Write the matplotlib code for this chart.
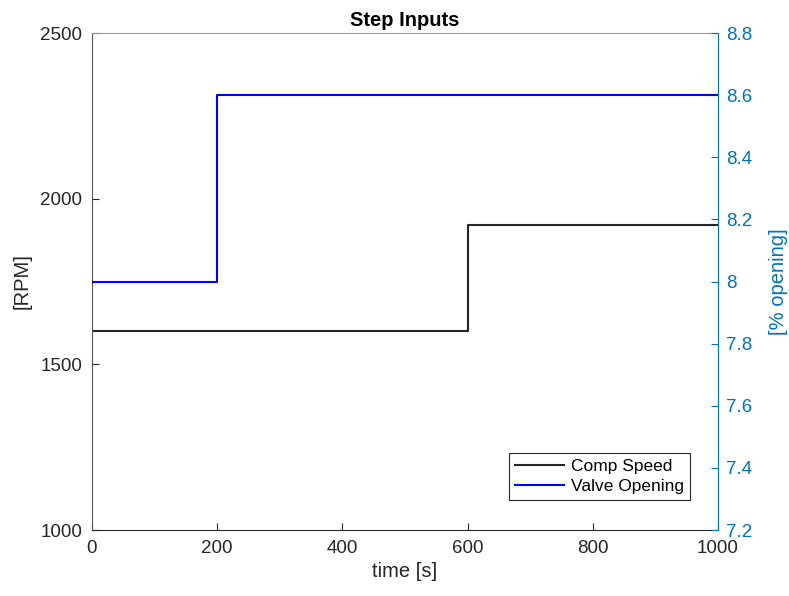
import matplotlib
matplotlib.use('Agg')
import matplotlib.pyplot as plt

# step input data
time_s = [0, 600, 600, 1000]
comp_speed = [1600, 1600, 1920, 1920]
valve_time = [0, 200, 200, 1000]
valve_open = [8.0, 8.0, 8.6, 8.6]

plt.rcParams['font.family'] = ['Liberation Sans', 'DejaVu Sans']

fig = plt.figure(figsize=(7.89, 5.96), dpi=100)
ax = fig.add_axes([0.1166, 0.1107, 0.7934, 0.8339])

l1, = ax.plot(time_s, comp_speed, color='#262626', lw=1.5, label='Comp Speed')
ax.set_xlim(0, 1000)
ax.set_ylim(1000, 2500)
ax.set_xticks([0, 200, 400, 600, 800, 1000])
ax.set_yticks([1000, 1500, 2000, 2500])
ax.tick_params(direction='in', labelsize=13.5, colors='#262626', length=5)
ax.tick_params(axis='x', pad=7)
ax.tick_params(axis='y', pad=7, right=False)
ax.set_xlabel('time [s]', fontsize=14.5, color='#262626', labelpad=4)
ax.set_ylabel('[RPM]', fontsize=14.5, color='#262626', labelpad=6)
ax.set_title('Step Inputs', fontsize=14.5, fontweight='bold', pad=5)

ax2 = ax.twinx()
l2, = ax2.plot(valve_time, valve_open, color='#0000ff', lw=1.5, label='Valve Opening')
ax2.set_ylim(7.2, 8.8)
ax2.set_yticks([7.2, 7.4, 7.6, 7.8, 8.0, 8.2, 8.4, 8.6, 8.8])
ax2.set_yticklabels(['7.2', '7.4', '7.6', '7.8', '8', '8.2', '8.4', '8.6', '8.8'])
ax2.tick_params(direction='in', labelsize=13.5, colors='#0072BD', length=5, pad=6)
ax2.set_ylabel('[% opening]', fontsize=14.5, color='#0072BD', labelpad=12)
ax2.spines['right'].set_color('#0072BD')
ax.spines['left'].set_color('#555555')
ax.spines['bottom'].set_color('#262626')
ax.spines['top'].set_color('#999999')
for s in ['left', 'top', 'bottom']:
    ax2.spines[s].set_visible(False)
ax.spines['right'].set_visible(False)

leg = ax2.legend(handles=[l1, l2], loc='lower right', bbox_to_anchor=(0.955, 0.06),
                 fontsize=12.5, fancybox=False, framealpha=1, edgecolor='#262626',
                 borderpad=0.35, handlelength=2.8, handletextpad=0.4,
                 labelspacing=0.3, borderaxespad=0)
leg.get_frame().set_linewidth(0.8)

fig.savefig('out.png', dpi=100)
